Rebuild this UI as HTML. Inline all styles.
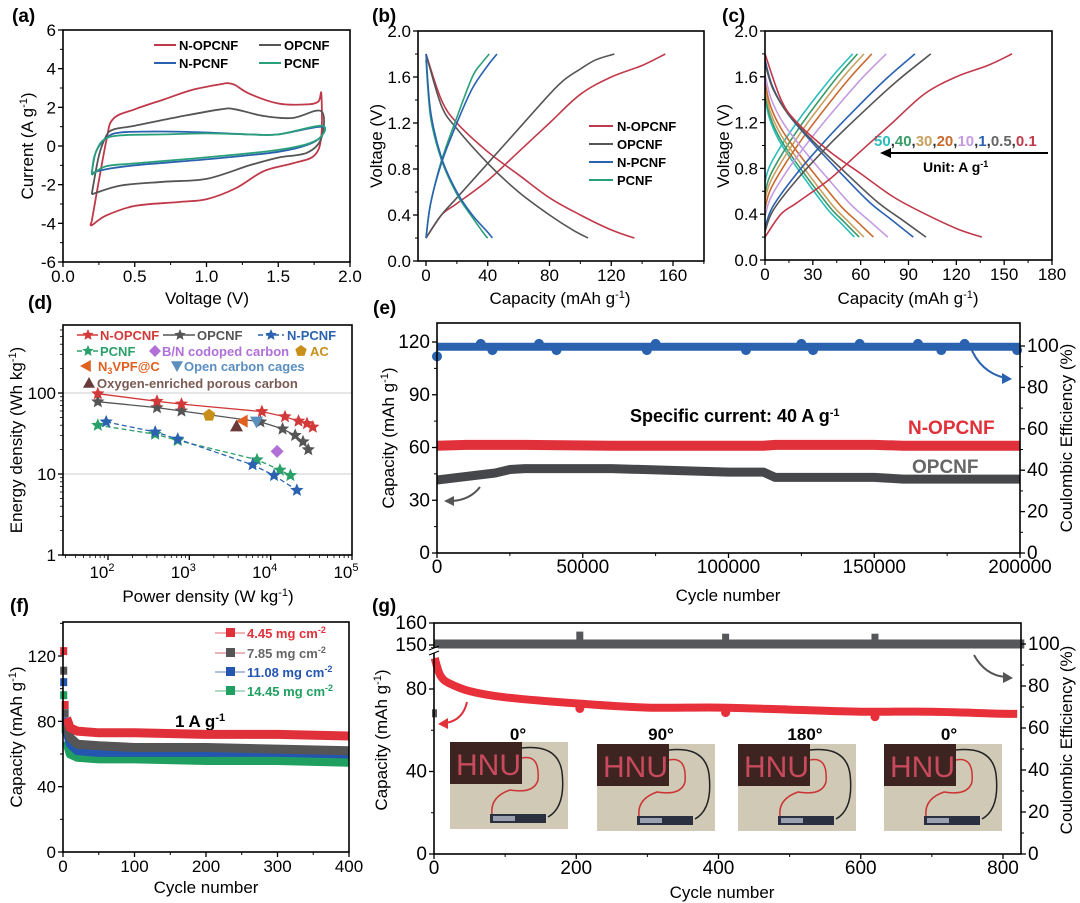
<!DOCTYPE html>
<html><head><meta charset="utf-8"><style>
html,body{margin:0;padding:0;background:#fff;}
svg{display:block;font-family:"Liberation Sans",sans-serif;}
.n{font-family:"Liberation Sans Narrow","Liberation Sans",sans-serif;}
.pl{font-size:19px;font-weight:bold;}
.at{font-size:17px;}
.lg{font-size:13px;font-weight:bold;}
</style></head><body>
<svg id="fig" width="1080" height="903" viewBox="0 0 1080 903">
<!-- panel labels -->
<text class="pl" x="12" y="22">(a)</text>
<text class="pl" x="372" y="22">(b)</text>
<text class="pl" x="722" y="22">(c)</text>
<text class="pl" x="28" y="309">(d)</text>
<text class="pl" x="373" y="314">(e)</text>
<text class="pl" x="10" y="612">(f)</text>
<text class="pl" x="372" y="612">(g)</text>
<!-- axis titles -->
<text class="at" x="207" y="304" text-anchor="middle">Voltage (V)</text>
<text class="at" transform="translate(33,146) rotate(-90)" text-anchor="middle">Current (A g<tspan dy="-6" font-size="11">-1</tspan><tspan dy="6">)</tspan></text>
<text class="at" x="560" y="304" text-anchor="middle">Capacity (mAh g<tspan dy="-6" font-size="11">-1</tspan><tspan dy="6">)</tspan></text>
<text class="at" transform="translate(382,146) rotate(-90)" text-anchor="middle">Voltage (V)</text>
<text class="at" x="908" y="304" text-anchor="middle">Capacity (mAh g<tspan dy="-6" font-size="11">-1</tspan><tspan dy="6">)</tspan></text>
<text class="at" transform="translate(729,146) rotate(-90)" text-anchor="middle">Voltage (V)</text>
<text class="at" x="208" y="602" text-anchor="middle">Power density (W kg<tspan dy="-6" font-size="11">-1</tspan><tspan dy="6">)</tspan></text>
<text class="at" transform="translate(22,440) rotate(-90)" text-anchor="middle">Energy density (Wh kg<tspan dy="-6" font-size="11">-1</tspan><tspan dy="6">)</tspan></text>
<text class="at n" x="728" y="601" text-anchor="middle" font-size="19">Cycle number</text>
<text class="at" transform="translate(394,438) rotate(-90)" text-anchor="middle">Capacity (mAh g<tspan dy="-6" font-size="11">-1</tspan><tspan dy="6">)</tspan></text>
<text class="at" transform="translate(1072,438) rotate(-90)" text-anchor="middle">Coulombic Efficiency (%)</text>
<text class="at" x="206" y="893" text-anchor="middle">Cycle number</text>
<text class="at" transform="translate(22,737) rotate(-90)" text-anchor="middle">Capacity (mAh g<tspan dy="-6" font-size="11">-1</tspan><tspan dy="6">)</tspan></text>
<text class="at n" x="722" y="898" text-anchor="middle" font-size="19">Cycle number</text>
<text class="at" transform="translate(387,740) rotate(-90)" text-anchor="middle">Capacity (mAh g<tspan dy="-6" font-size="11">-1</tspan><tspan dy="6">)</tspan></text>
<text class="at" transform="translate(1072,740) rotate(-90)" text-anchor="middle">Coulombic Efficiency (%)</text>

<!-- legend a -->
<g>
<line x1="154" y1="45" x2="176" y2="45" stroke="#c0394a" stroke-width="2"/><text class="lg" x="179" y="50">N-OPCNF</text>
<line x1="259" y1="45" x2="281" y2="45" stroke="#555" stroke-width="2"/><text class="lg" x="284" y="50">OPCNF</text>
<line x1="154" y1="63" x2="176" y2="63" stroke="#2a62b0" stroke-width="2"/><text class="lg" x="179" y="68">N-PCNF</text>
<line x1="259" y1="63" x2="281" y2="63" stroke="#2aa07a" stroke-width="2"/><text class="lg" x="284" y="68">PCNF</text>
</g>
<!-- legend b -->
<g>
<line x1="589" y1="126" x2="613" y2="126" stroke="#c0394a" stroke-width="2"/><text class="lg" x="617" y="131">N-OPCNF</text>
<line x1="589" y1="144" x2="613" y2="144" stroke="#555" stroke-width="2"/><text class="lg" x="617" y="149">OPCNF</text>
<line x1="589" y1="162" x2="613" y2="162" stroke="#2a62b0" stroke-width="2"/><text class="lg" x="617" y="167">N-PCNF</text>
<line x1="589" y1="180" x2="613" y2="180" stroke="#2aa07a" stroke-width="2"/><text class="lg" x="617" y="185">PCNF</text>
</g>
<!-- annotation c -->
<g>
<text x="874" y="146" font-size="15" font-weight="bold"><tspan fill="#2bbdbd">50</tspan><tspan fill="#333">,</tspan><tspan fill="#3a9a6a">40</tspan><tspan fill="#333">,</tspan><tspan fill="#c8a060">30</tspan><tspan fill="#333">,</tspan><tspan fill="#c86a30">20</tspan><tspan fill="#333">,</tspan><tspan fill="#c49be0">10</tspan><tspan fill="#333">,</tspan><tspan fill="#2a62b0">1</tspan><tspan fill="#333">,</tspan><tspan fill="#666">0.5</tspan><tspan fill="#333">,</tspan><tspan fill="#c0394a">0.1</tspan></text>
<line x1="1048" y1="153" x2="888" y2="153" stroke="#000" stroke-width="2"/>
<polygon points="880,153 891,148 891,158" fill="#000"/>
<text x="923" y="172" font-size="14" font-weight="bold">Unit: A g<tspan dy="-5" font-size="9">-1</tspan></text>
</g>
<!-- legend d -->
<g id="legd">
<line x1="77" y1="335" x2="98" y2="335" stroke="#d23a3a" stroke-width="1.5"/><text class="lg" x="100" y="340" fill="#d23a3a">N-OPCNF</text>
<line x1="163" y1="335" x2="195" y2="335" stroke="#555" stroke-width="1.5"/><text class="lg" x="197" y="340" fill="#555">OPCNF</text>
<line x1="258" y1="335" x2="284" y2="335" stroke="#2a62b0" stroke-width="1.5" stroke-dasharray="5,3"/><text class="lg" x="287" y="340" fill="#2a62b0">N-PCNF</text>
<line x1="77" y1="351" x2="98" y2="351" stroke="#2aa06a" stroke-width="1.5" stroke-dasharray="5,3"/><text class="lg" x="100" y="356" fill="#2aa06a">PCNF</text>
<text class="lg" x="162" y="356" fill="#b070d8">B/N codoped carbon</text>
<text class="lg" x="310" y="356" fill="#c8901a">AC</text>
<text class="lg" x="98" y="371" fill="#e06020">N<tspan font-size="9" dy="3">3</tspan><tspan dy="-3">VPF@C</tspan></text>
<text class="lg" x="184" y="371" fill="#5a8fc0">Open carbon cages</text>
<text class="lg" x="97" y="388" fill="#7a5a55">Oxygen-enriched porous carbon</text>
</g>
<!-- e annotations -->
<g>
<text class="n" x="630" y="422" font-size="18" font-weight="bold">Specific current: 40 A g<tspan dy="-6" font-size="11">-1</tspan></text>
<text class="n" x="908" y="434" font-size="19" font-weight="bold" fill="#e0303a">N-OPCNF</text>
<text class="n" x="912" y="473" font-size="19" font-weight="bold" fill="#666">OPCNF</text>
<path d="M970,346 Q980,372 1005,378" fill="none" stroke="#2a62b0" stroke-width="2"/>
<polygon points="1012,379 1002,373 1002,384" fill="#2a62b0"/>
<path d="M480,487 Q470,500 452,501" fill="none" stroke="#555" stroke-width="2"/>
<polygon points="444,501 454,496 454,506" fill="#555"/>
</g>
<!-- f legend -->
<g>
<line x1="215" y1="633" x2="245" y2="633" stroke="#e0303a" stroke-width="0.8"/><rect x="226" y="628" width="9" height="9" fill="#e0303a"/><text class="lg" x="247" y="638" fill="#e0303a">4.45 mg cm<tspan dy="-5" font-size="9">-2</tspan></text>
<line x1="215" y1="653" x2="245" y2="653" stroke="#c0394a" stroke-width="0.8"/><rect x="226" y="648" width="9" height="9" fill="#555"/><text class="lg" x="247" y="658" fill="#666">7.85 mg cm<tspan dy="-5" font-size="9">-2</tspan></text>
<line x1="215" y1="672" x2="245" y2="672" stroke="#2456b0" stroke-width="0.8"/><rect x="226" y="667" width="9" height="9" fill="#2456b0"/><text class="lg" x="247" y="677" fill="#2456b0">11.08 mg cm<tspan dy="-5" font-size="9">-2</tspan></text>
<line x1="215" y1="691" x2="245" y2="691" stroke="#20a060" stroke-width="0.8"/><rect x="226" y="686" width="9" height="9" fill="#20a060"/><text class="lg" x="247" y="696" fill="#20a060">14.45 mg cm<tspan dy="-5" font-size="9">-2</tspan></text>
<text x="175" y="727" font-size="17" font-weight="bold">1 A g<tspan dy="-6" font-size="11">-1</tspan></text>
</g>
<!-- g annotations -->
<g>
<text class="n" x="518" y="740" font-size="17" font-weight="bold" text-anchor="middle">0°</text>
<text class="n" x="661" y="740" font-size="17" font-weight="bold" text-anchor="middle">90°</text>
<text class="n" x="805" y="740" font-size="17" font-weight="bold" text-anchor="middle">180°</text>
<text class="n" x="949" y="740" font-size="17" font-weight="bold" text-anchor="middle">0°</text>
<path d="M467,702 Q463,720 446,723" fill="none" stroke="#e0303a" stroke-width="2"/>
<polygon points="438,724 448,718 448,729" fill="#e0303a"/>
<path d="M974,655 Q985,675 1005,677" fill="none" stroke="#555" stroke-width="2"/>
<polygon points="1013,678 1003,672 1003,683" fill="#555"/>
</g>
</svg>
<script>
// ---------- DATA ----------
// (a) CV loops: closed loop voltage / current
const cvV_NOPCNF=[0.2,0.3,0.35,0.5,0.7,0.9,1.1,1.15,1.2,1.3,1.5,1.7,1.78,1.8,1.8,1.75,1.6,1.4,1.2,1.0,0.8,0.5,0.3,0.2,0.2];
const cvI_NOPCNF=[-3.9,0.2,1.4,1.9,2.4,2.9,3.2,3.25,3.15,2.7,2.2,2.15,2.3,2.7,0.5,-0.5,-0.9,-1.3,-2.2,-2.75,-2.9,-3.1,-3.6,-4.1,-3.9];
const cvV_OPCNF=[0.2,0.25,0.3,0.35,0.5,0.8,1.1,1.2,1.4,1.6,1.8,1.8,1.7,1.5,1.3,1.0,0.7,0.4,0.2];
const cvI_OPCNF=[-2.5,-0.5,0.5,0.85,1.05,1.5,1.9,1.9,1.55,1.45,1.8,0.4,-0.35,-0.6,-1.0,-1.7,-1.85,-2.05,-2.5];
const cvV_NPCNF=[0.2,0.23,0.3,0.4,0.7,1.0,1.3,1.5,1.8,1.8,1.7,1.5,1.2,0.9,0.5,0.3,0.2];
const cvI_NPCNF=[-1.4,-0.3,0.4,0.7,0.75,0.7,0.6,0.6,1.0,0.5,0.05,-0.3,-0.55,-0.75,-1.0,-1.2,-1.4];
const cvV_PCNF=[0.2,0.22,0.28,0.4,0.7,1.0,1.3,1.5,1.8,1.8,1.7,1.5,1.2,0.9,0.5,0.3,0.2];
const cvI_PCNF=[-1.5,-0.5,0.3,0.55,0.6,0.65,0.6,0.6,1.05,0.5,0.1,-0.2,-0.45,-0.65,-0.9,-1.05,-1.5];
// (b) GCD
const bChCap_NOPCNF=[0,10,20,40,60,80,100,120,140,155], bChV_NOPCNF=[0.2,0.4,0.5,0.7,0.95,1.2,1.45,1.6,1.7,1.8];
const bDcCap_NOPCNF=[0,10,20,40,60,80,100,120,135], bDcV_NOPCNF=[1.8,1.4,1.2,0.95,0.75,0.55,0.4,0.27,0.2];
const bChCap_OPCNF=[0,10,20,40,60,80,90,100,110,122], bChV_OPCNF=[0.2,0.4,0.55,0.85,1.15,1.45,1.58,1.67,1.75,1.8];
const bDcCap_OPCNF=[0,10,20,40,60,80,95,105], bDcV_OPCNF=[1.8,1.35,1.15,0.85,0.6,0.4,0.27,0.2];
const bChCap_NPCNF=[0,3,10,20,30,40,46], bChV_NPCNF=[0.2,0.5,0.85,1.2,1.5,1.7,1.8];
const bDcCap_NPCNF=[0,3,10,20,30,40,43], bDcV_NPCNF=[1.8,1.3,0.9,0.6,0.4,0.25,0.2];
const bChCap_PCNF=[0,3,10,20,30,36,41], bChV_PCNF=[0.2,0.5,0.87,1.25,1.6,1.72,1.8];
const bDcCap_PCNF=[0,3,10,20,30,38,40], bDcV_PCNF=[1.75,1.25,0.88,0.58,0.38,0.23,0.2];
// (c) rate GCD
const cRates=['50','40','30','20','10','1','0.5','0.1'];
const cChargeEnd=[55,58,62,67,76,94,104,155];
const cDischargeEnd=[56,59,62,68,77,93,101,136];
const cChargeV0=[0.68,0.58,0.52,0.45,0.38,0.28,0.25,0.3];
const cDischargeV0=[1.42,1.45,1.5,1.55,1.62,1.75,1.72,1.6];
const cChShapeU=[0,0.05,0.2,0.4,0.6,0.8,1], cChShapeF=[0,0.12,0.3,0.5,0.68,0.85,1];
const cDcShapeU=[0,0.05,0.15,0.3,0.5,0.7,0.85,1], cDcShapeF=[1,0.85,0.7,0.55,0.37,0.2,0.1,0];
// (d) Ragone
const dP_NOPCNF=[75,400,800,7800,15000,22000,28000,33000], dE_NOPCNF=[98,79,73,59,51,45,42,38];
const dP_OPCNF=[75,400,800,7500,14000,20000,25000,29000], dE_OPCNF=[78,66,60,44,36,30,25,20];
const dP_NPCNF=[95,380,720,6000,11000,21000], dE_NPCNF=[44,33,27,13,9.6,6.3];
const dP_PCNF=[75,380,720,6800,13000,17500], dE_PCNF=[40,31,26,15,11.2,9.6];
const dRefNames=['B/N codoped carbon','AC','N3VPF@C','Open carbon cages','Oxygen-enriched porous carbon'];
const dRefP=[12000,1750,4500,6700,3800];
const dRefE=[19,53,45,44,39];
// (e) long cycling
const eCyc=[0,10000,20000,25000,30000,60000,100000,112000,116000,150000,160000,200000];
const eCap_OPCNF=[41.5,43.5,45.5,47.5,48,48,46,46,43,43,42,42];
const eCap_NOPCNF=[61,61.5,61.5,61.5,61.5,61,61,61,61.5,61.5,61,61];
const eCE=[99.6,99.6,99.6,99.6,99.6,99.6,99.6,99.6,99.6,99.6,99.6,99.6];
const eCEOutCyc=[0,15000,19000,35000,41000,72000,75000,106000,125000,129000,145000,165000,173000,181000,199000];
const eCEOut=[95,101,98,101,98,98,101,98,101,98,101,101,98,101,98];
// (f) mass loading
const fCyc=[1,3,5,10,20,50,100,200,300,400];
const fCap_445=[123,90,82,76,74,73,73,72,72,71];
const fCap_785=[111,85,78,70,66,65,64,64,63,62];
const fCap_1108=[104,80,75,66,62,61,61,61,61,60];
const fCap_1445=[96,75,68,60,58,57,57,56,56,55];
// (g) flexible device
const gCyc=[1,5,10,20,50,100,200,300,400,500,600,700,800,820];
const gCap=[95,90,86,83,79,76,73,71,71,70,69,69,68,68];
const gCEOutCyc=[205,410,620], gCEOut=[104,103,103];

// ---------- HELPERS ----------
const NS='http://www.w3.org/2000/svg';
const svg=document.getElementById('fig');
function E(tag,attrs,parent){const e=document.createElementNS(NS,tag);for(const k in attrs)e.setAttribute(k,attrs[k]);(parent||svg).appendChild(e);return e;}
function lin(d0,d1,r0,r1){return v=>r0+(v-d0)*(r1-r0)/(d1-d0);}
function logsc(d0,d1,r0,r1){return v=>r0+(Math.log10(v)-Math.log10(d0))*(r1-r0)/(Math.log10(d1)-Math.log10(d0));}
function pts(xs,ys,sx,sy){return xs.map((v,i)=>[sx(v),sy(ys[i])]);}
function smooth(p){let d='M'+p[0][0].toFixed(1)+','+p[0][1].toFixed(1);for(let i=0;i<p.length-1;i++){const p0=p[i-1]||p[i],p1=p[i],p2=p[i+1],p3=p[i+2]||p2;const c1=[p1[0]+(p2[0]-p0[0])/6,p1[1]+(p2[1]-p0[1])/6],c2=[p2[0]-(p3[0]-p1[0])/6,p2[1]-(p3[1]-p1[1])/6];d+='C'+c1.map(v=>v.toFixed(1))+' '+c2.map(v=>v.toFixed(1))+' '+p2.map(v=>v.toFixed(1));}return d;}
function poly(p){return p.map((q,i)=>(i?'L':'M')+q[0].toFixed(1)+','+q[1].toFixed(1)).join('');}
function txt(s,x,y,attrs,parent){const e=E('text',Object.assign({x:x,y:y},attrs),parent);e.textContent=s;return e;}
function frame(box,name){const r=E('rect',{x:box.l,y:box.t,width:box.r-box.l,height:box.b-box.t,fill:'none',stroke:'#000','stroke-width':1.6});

}
function xTicks(box,vals,labels,sx,minor,fs,cls){const g=E('g',{});


vals.forEach((v,i)=>{E('line',{x1:sx(v),x2:sx(v),y1:box.b,y2:box.b+5,stroke:'#000','stroke-width':1.3},g);const t=txt(labels[i],sx(v),box.b+20,{'font-size':fs,'text-anchor':'middle',class:cls||''},g);

});
(minor||[]).forEach(v=>E('line',{x1:sx(v),x2:sx(v),y1:box.b,y2:box.b+3,stroke:'#000','stroke-width':1},g));}
function yTicks(box,vals,labels,sy,minor,fs,side,cls){const g=E('g',{});


const x0=side==='r'?box.r:box.l,dir=side==='r'?1:-1;
vals.forEach((v,i)=>{E('line',{x1:x0,x2:x0+dir*5,y1:sy(v),y2:sy(v),stroke:'#000','stroke-width':1.3},g);const t=txt(labels[i],x0+dir*7,sy(v)+6,{'font-size':fs,'text-anchor':side==='r'?'start':'end',class:cls||''},g);

});
(minor||[]).forEach(v=>E('line',{x1:x0,x2:x0+dir*3,y1:sy(v),y2:sy(v),stroke:'#000','stroke-width':1},g));}
function star(cx,cy,r){let s=[];for(let i=0;i<10;i++){const a=-Math.PI/2+i*Math.PI/5,rr=i%2?r*0.45:r;s.push((cx+rr*Math.cos(a)).toFixed(1)+','+(cy+rr*Math.sin(a)).toFixed(1));}return s.join(' ');}
function shape(kind,cx,cy,r){if(kind==='diamond')return [[cx,cy-r],[cx+r,cy],[cx,cy+r],[cx-r,cy]].map(p=>p.join(',')).join(' ');
if(kind==='pent'){let s=[];for(let i=0;i<5;i++){const a=-Math.PI/2+i*2*Math.PI/5;s.push((cx+r*Math.cos(a)).toFixed(1)+','+(cy+r*Math.sin(a)).toFixed(1));}return s.join(' ');}
if(kind==='left')return [[cx-r,cy],[cx+r*0.8,cy-r],[cx+r*0.8,cy+r]].map(p=>p.join(',')).join(' ');
if(kind==='down')return [[cx-r,cy-r*0.8],[cx+r,cy-r*0.8],[cx,cy+r]].map(p=>p.join(',')).join(' ');
return [[cx-r,cy+r*0.8],[cx+r,cy+r*0.8],[cx,cy-r]].map(p=>p.join(',')).join(' ');}

// ---------- (a) ----------
const boxA={l:63,r:350,t:30,b:262};
const sxA=lin(0,2,63,350), syA=lin(-6,6,262,30);
const cvSeries=[[cvV_NOPCNF,cvI_NOPCNF,'#c0394a','cv-n-opcnf'],[cvV_OPCNF,cvI_OPCNF,'#555','cv-opcnf'],[cvV_NPCNF,cvI_NPCNF,'#2a62b0','cv-n-pcnf'],[cvV_PCNF,cvI_PCNF,'#2aa07a','cv-pcnf']];
cvSeries.forEach(s=>{const p=E('path',{d:smooth(pts(s[0],s[1],sxA,syA)),fill:'none',stroke:s[2],'stroke-width':1.8});

});
frame(boxA,'a-plot-frame');
xTicks(boxA,[0,0.5,1,1.5,2],['0.0','0.5','1.0','1.5','2.0'],sxA,[0.25,0.75,1.25,1.75],17);
yTicks(boxA,[-6,-4,-2,0,2,4,6],['-6','-4','-2','0','2','4','6'],syA,[-5,-3,-1,1,3,5],17);

// ---------- (b) ----------
const boxB={l:418,r:704,t:31,b:261};
const sxB=lin(0,160,426,673), syB=lin(0,2,261,31);
const bSeries=[[bChCap_NOPCNF,bChV_NOPCNF,bDcCap_NOPCNF,bDcV_NOPCNF,'#c0394a','gcd-n-opcnf'],[bChCap_OPCNF,bChV_OPCNF,bDcCap_OPCNF,bDcV_OPCNF,'#555','gcd-opcnf'],[bChCap_PCNF,bChV_PCNF,bDcCap_PCNF,bDcV_PCNF,'#2aa07a','gcd-pcnf'],[bChCap_NPCNF,bChV_NPCNF,bDcCap_NPCNF,bDcV_NPCNF,'#2a62b0','gcd-n-pcnf']];
bSeries.forEach(s=>{const p1=E('path',{d:smooth(pts(s[0],s[1],sxB,syB)),fill:'none',stroke:s[4],'stroke-width':1.6});


const p2=E('path',{d:smooth(pts(s[2],s[3],sxB,syB)),fill:'none',stroke:s[4],'stroke-width':1.6});

});
frame(boxB,'b-plot-frame');
xTicks(boxB,[0,40,80,120,160],['0','40','80','120','160'],sxB,[20,60,100,140,180],17);
yTicks(boxB,[0,0.4,0.8,1.2,1.6,2.0],['0.0','0.4','0.8','1.2','1.6','2.0'],syB,[0.2,0.6,1.0,1.4,1.8],17);

// ---------- (c) ----------
const boxC={l:765,r:1052,t:31,b:260};
const sxC=lin(0,180,765,1052), syC=lin(0,2,260,31);
const cColors=['#2bbdbd','#3a9a6a','#c8a060','#c86a30','#c49be0','#2a62b0','#555','#c0394a'];
cRates.forEach((r,i)=>{let chX,chY,dcX,dcY;
if(r==='0.1'){chX=bChCap_NOPCNF.map(v=>v*cChargeEnd[i]/155);chY=bChV_NOPCNF;dcX=bDcCap_NOPCNF.map(v=>v*cDischargeEnd[i]/135);dcY=bDcV_NOPCNF;}
else{chX=cChShapeU.map(u=>u*cChargeEnd[i]);chY=cChShapeF.map(f=>cChargeV0[i]+f*(1.8-cChargeV0[i]));dcX=cDcShapeU.map(u=>u*cDischargeEnd[i]);dcY=cDcShapeF.map(f=>0.2+f*(cDischargeV0[i]-0.2));}
const p1=E('path',{d:smooth(pts(chX,chY,sxC,syC)),fill:'none',stroke:cColors[i],'stroke-width':1.6});


const p2=E('path',{d:smooth(pts(dcX,dcY,sxC,syC)),fill:'none',stroke:cColors[i],'stroke-width':1.6});

});
frame(boxC,'c-plot-frame');
xTicks(boxC,[0,30,60,90,120,150,180],['0','30','60','90','120','150','180'],sxC,[15,45,75,105,135,165],17);
yTicks(boxC,[0,0.4,0.8,1.2,1.6,2.0],['0.0','0.4','0.8','1.2','1.6','2.0'],syC,[0.2,0.6,1.0,1.4,1.8],17);

// ---------- (d) ----------
const boxD={l:63,r:352,t:325,b:555};
const sxD=logsc(100,100000,108,352), syD=logsc(1,100,555,393);
[10,100].forEach(v=>{const gl=E('line',{x1:boxD.l,x2:boxD.r,y1:syD(v),y2:syD(v),stroke:'#ccc','stroke-width':1});

});
const dSeries=[[dP_PCNF,dE_PCNF,'#2aa06a','ragone-pcnf','5,3'],[dP_NPCNF,dE_NPCNF,'#2a62b0','ragone-n-pcnf','5,3'],[dP_OPCNF,dE_OPCNF,'#555','ragone-opcnf',''],[dP_NOPCNF,dE_NOPCNF,'#d23a3a','ragone-n-opcnf','']];
dSeries.forEach(s=>{const g=E('g',{});


E('path',{d:poly(pts(s[0],s[1],sxD,syD)),fill:'none',stroke:s[2],'stroke-width':1.3,'stroke-dasharray':s[4]},g);
s[0].forEach((p,i)=>{const m=E('polygon',{points:star(sxD(p),syD(s[1][i]),7),fill:s[2]},g);

});});
const dRefShapes=['diamond','pent','left','down','up'], dRefColors=['#b070d8','#c8901a','#e06020','#5a8fc0','#6a3a3a'];
dRefNames.forEach((n,i)=>{const m=E('polygon',{points:shape(dRefShapes[i],sxD(dRefP[i]),syD(dRefE[i]),6.5),fill:dRefColors[i]});

});
// legend markers for d
const legd=document.getElementById('legd');
[[88,335,'#d23a3a'],[180,335,'#555'],[271,335,'#2a62b0'],[88,351,'#2aa06a']].forEach(q=>E('polygon',{points:star(q[0],q[1],6),fill:q[2]},legd));
E('polygon',{points:shape('diamond',155,351,6),fill:'#b070d8'},legd);
E('polygon',{points:shape('pent',301,351,6),fill:'#c8901a'},legd);
E('polygon',{points:shape('left',86,366,6),fill:'#e06020'},legd);
E('polygon',{points:shape('down',177,366,6),fill:'#5a8fc0'},legd);
E('polygon',{points:shape('up',89,383,6),fill:'#6a3a3a'},legd);
frame(boxD,'d-plot-frame');
(function(){const g=E('g',{});


[100,1000,10000,100000].forEach((v,i)=>{E('line',{x1:sxD(v),x2:sxD(v),y1:boxD.b,y2:boxD.b+5,stroke:'#000','stroke-width':1.3},g);const t=E('text',{x:sxD(v)-6,y:boxD.b+23,'font-size':17,'text-anchor':'middle'},g);t.innerHTML='10<tspan dy="-7" font-size="11">'+(i+2)+'</tspan>';});
for(let e=1;e<5;e++)for(let k=2;k<10;k++){const v=k*Math.pow(10,e);const x=sxD(v);if(x>boxD.l&&x<boxD.r)E('line',{x1:x,x2:x,y1:boxD.b,y2:boxD.b+3,stroke:'#000','stroke-width':0.8},g);}})();
yTicks(boxD,[1,10,100],['1','10','100'],syD,[],17);
(function(){const g=E('g',{});


for(let e=0;e<3;e++)for(let k=2;k<10;k++){const v=k*Math.pow(10,e);const y=syD(v);if(y>boxD.t)E('line',{x1:boxD.l,x2:boxD.l-3,y1:y,y2:y,stroke:'#000','stroke-width':0.8},g);}})();

// ---------- (e) ----------
const boxE={l:437,r:1020,t:323,b:553};
const sxE=lin(0,200000,437,1020), syE=lin(0,120,553,342), syE2=lin(0,100,553,346);
(function(){const p=E('path',{d:poly(pts(eCyc,eCap_OPCNF,sxE,syE)),fill:'none',stroke:'#45474a','stroke-width':9,'stroke-linejoin':'round'});


const q=E('path',{d:poly(pts(eCyc,eCap_NOPCNF,sxE,syE)),fill:'none',stroke:'#e0303a','stroke-width':10,'stroke-linejoin':'round'});


const c=E('path',{d:poly(pts(eCyc,eCE,sxE,syE2)),fill:'none',stroke:'#2a62b0','stroke-width':8});


eCEOutCyc.forEach((v,i)=>{const d=E('circle',{cx:sxE(v),cy:syE2(eCEOut[i]),r:5,fill:'#2a62b0'});

});})();
frame(boxE,'e-plot-frame');
xTicks(boxE,[0,50000,100000,150000,200000],['0','50000','100000','150000','200000'],sxE,[25000,75000,125000,175000],19,'n');
yTicks(boxE,[0,30,60,90,120],['0','30','60','90','120'],syE,[15,45,75,105],19,'l','n');
yTicks(boxE,[0,20,40,60,80,100],['0','20','40','60','80','100'],syE2,[10,30,50,70,90],19,'r','n');

// ---------- (f) ----------
const boxF={l:63,r:349,t:622,b:852};
const sxF=lin(0,400,63,349), syF=lin(0,120,852,656);
const fSeries=[[fCap_1445,'#20a060','f-14-45'],[fCap_1108,'#2456b0','f-11-08'],[fCap_785,'#555','f-7-85'],[fCap_445,'#e0303a','f-4-45']];
fSeries.forEach(s=>{const g=E('g',{});


E('path',{d:poly(pts(fCyc.slice(2),s[0].slice(2),sxF,syF)),fill:'none',stroke:s[1],'stroke-width':9,'stroke-linejoin':'round'},g);
[0,1].forEach(i=>{E('rect',{x:sxF(fCyc[i])-3.5,y:syF(s[0][i])-4,width:7,height:8,fill:s[1]},g);});});
frame(boxF,'f-plot-frame');
xTicks(boxF,[0,100,200,300,400],['0','100','200','300','400'],sxF,[50,150,250,350],17);
yTicks(boxF,[0,40,80,120],['0','40','80','120'],syF,[20,60,100,140],17);

// ---------- (g) ----------
const boxG={l:434,r:1021,t:623,b:854};
const sxG=lin(0,800,434,1003), syGlow=lin(0,80,854,689), syGtop=lin(150,160,645,623), syG2=lin(0,100,854,644);
(function(){const c=E('path',{d:poly(pts([0,830],[100,100],sxG,syG2)),fill:'none',stroke:'#55575a','stroke-width':9});


gCEOutCyc.forEach((v,i)=>{const r=E('rect',{x:sxG(v)-3.5,y:syG2(gCEOut[i])-4,width:7,height:8,fill:'#55575a'});

});
const r0=E('rect',{x:sxG(0)-2,y:syG2(67)-4,width:5,height:8,fill:'#55575a'});


const p=E('path',{d:smooth(pts(gCyc,gCap,sxG,syGlow)),fill:'none',stroke:'#e8303a','stroke-width':8,'stroke-linejoin':'round'});


gCEOutCyc.forEach((v,i)=>{const d=E('circle',{cx:sxG(v),cy:syGlow(gCap[6+2*i]||69)+5,r:4.5,fill:'#e8303a'});

});})();
// photos
const photoPos=[[450,742],[597,744],[738,744],[884,744]];
photoPos.forEach((q,i)=>{const g=E('g',{transform:'translate('+q[0]+','+q[1]+')'});


E('rect',{x:0,y:0,width:118,height:87,fill:'#cfc9b6'},g);
E('rect',{x:0,y:0,width:72,height:42,fill:'#3e2420'},g);
const t=E('text',{x:6,y:33,'font-size':30,'font-family':'Liberation Sans Narrow, Liberation Sans, sans-serif',fill:'#c84a5c'},g);t.textContent='HNU';
E('path',{d:'M72,6 Q108,2 112,30 Q116,65 98,75',fill:'none',stroke:'#222','stroke-width':1.5},g);
E('path',{d:'M72,16 Q90,12 88,38 Q84,52 60,48 Q40,55 42,72',fill:'none',stroke:'#c33','stroke-width':1.5},g);
E('rect',{x:40,y:72,width:56,height:9,fill:'#2a3040'},g);
E('rect',{x:43,y:74,width:22,height:5,fill:'#9aa0b0'},g);});
frame(boxG,'g-plot-frame');
xTicks(boxG,[0,200,400,600,800],['0','200','400','600','800'],sxG,[100,300,500,700],19,'n');
yTicks(boxG,[0,40,80],['0','40','80'],syGlow,[20,60,100],19,'l','n');
yTicks(boxG,[150,160],['150','160'],syGtop,[],19,'l','n');
yTicks(boxG,[0,20,40,60,80,100],['0','20','40','60','80','100'],syG2,[10,30,50,70,90],19,'r','n');
(function(){const g=E('g',{});


E('rect',{x:430,y:648,width:8,height:5,fill:'#fff'},g);
E('line',{x1:429,y1:650,x2:439,y2:646,stroke:'#000','stroke-width':1.2},g);
E('line',{x1:429,y1:655,x2:439,y2:651,stroke:'#000','stroke-width':1.2},g);})();
</script>
</body></html>
